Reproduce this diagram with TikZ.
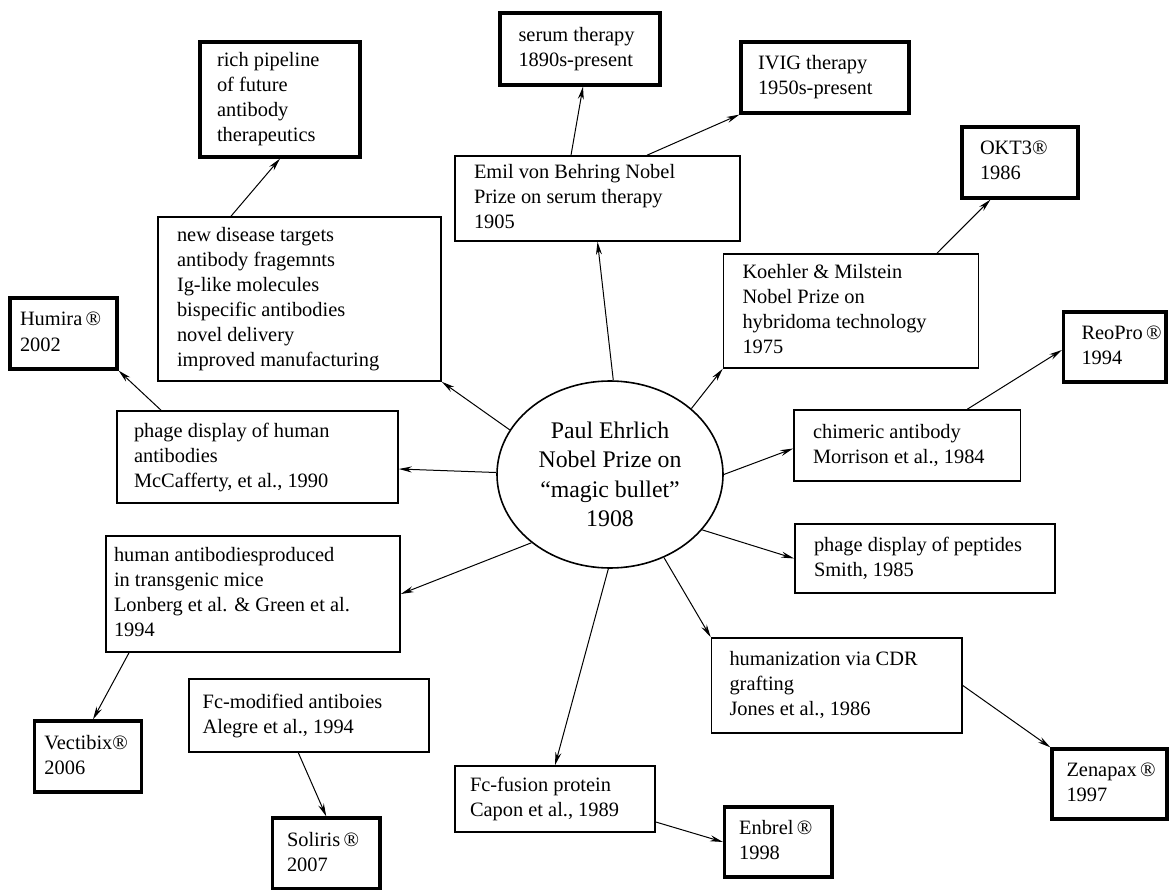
\documentclass[tikz,border=0pt]{standalone}
\usepackage{fontspec}
\setmainfont{Liberation Serif}
\usetikzlibrary{arrows.meta,shapes.geometric}
\newcommand\boxfont{\fontsize{20.4}{25}\selectfont}
\newcommand\ellfont{\fontsize{23.8}{29.3}\selectfont}
\newcommand\bt[3]{\makebox[#1][l]{\hspace*{#2}\begin{tabular}{@{}l@{}}#3\end{tabular}}}
\tikzset{
  thinbox/.style={draw, line width=1.6pt, inner sep=0pt, font=\boxfont},
  thickbox/.style={draw, line width=3.2pt, inner sep=0pt, font=\boxfont},
  arr/.style={line width=1pt, -{Stealth[length=13pt,width=6pt]}},
}
\begin{document}
\begin{tikzpicture}[x=1pt,y=-1pt]
\fill[white] (0,0) rectangle (1169,890);
\useasboundingbox (0,0) rectangle (1169,890);

% central ellipse
\node[draw, line width=1.6pt, ellipse, minimum width=226pt, minimum height=187pt, inner sep=0pt, align=center, font=\ellfont] (ell) at (610,474.5)
  {Paul Ehrlich\\Nobel Prize on\\“magic bullet”\\1908};

% boxes
\node[thickbox, minimum width=160pt, minimum height=115pt] (rich) at (280,99.5)
  {\bt{160pt}{17pt}{rich pipeline\\of future\\antibody\\therapeutics}};
\node[thinbox, minimum width=283pt, minimum height=164pt] (newdis) at (299.5,299)
  {\bt{283pt}{19pt}{new disease targets\\antibody fragemnts\\Ig-like molecules\\bispecific antibodies\\novel delivery\\improved manufacturing}};
\node[thickbox, minimum width=107pt, minimum height=71pt] (humira) at (63.5,333.5)
  {\bt{107pt}{10pt}{Humira\,®\\2002}};
\node[thinbox, minimum width=281pt, minimum height=92pt] (phagehum) at (257.5,457)
  {\bt{281pt}{17pt}{phage display of human\\antibodies\\McCafferty, et al., 1990}};
\node[thickbox, minimum width=160pt, minimum height=72pt] (serum) at (580,49)
  {\bt{160pt}{18.5pt}{serum therapy\\1890s-present}};
\node[thinbox, minimum width=285pt, minimum height=85pt] (emil) at (597.5,198.5)
  {\bt{285pt}{19pt}{Emil von Behring Nobel\\Prize on serum therapy\\1905}};
\node[thickbox, minimum width=168pt, minimum height=71pt] (ivig) at (825,77.5)
  {\bt{168pt}{17pt}{IVIG therapy\\1950s-present}};
\node[thickbox, minimum width=116pt, minimum height=71pt] (okt3) at (1020,162.5)
  {\bt{116pt}{18pt}{OKT3®\\1986}};
\node[thinbox, minimum width=255pt, minimum height=114pt] (koehler) at (851,311)
  {\bt{255pt}{19pt}{Koehler \& Milstein\\Nobel Prize on\\hybridoma technology\\1975}};
\node[thickbox, minimum width=102.5pt, minimum height=70pt] (reopro) at (1114.75,347)
  {\bt{102.5pt}{18pt}{ReoPro\,®\\1994}};
\node[thinbox, minimum width=226.6pt, minimum height=71pt] (chimeric) at (907.3,445.5)
  {\bt{226.6pt}{19pt}{chimeric antibody\\Morrison et al., 1984}};
\node[thinbox, minimum width=260pt, minimum height=69pt] (peptides) at (925,558.5)
  {\bt{260pt}{19pt}{phage display of peptides\\Smith, 1985}};
\node[thinbox, minimum width=250.5pt, minimum height=95pt] (humaniz) at (836.75,685.5)
  {\bt{250.5pt}{18pt}{humanization via CDR\\grafting\\Jones et al., 1986}};
\node[thickbox, minimum width=115pt, minimum height=70pt] (zenapax) at (1109.5,784)
  {\bt{115pt}{14.5pt}{Zenapax\,®\\1997}};
\node[thickbox, minimum width=107.4pt, minimum height=70pt] (enbrel) at (778.3,842)
  {\bt{107.4pt}{14.5pt}{Enbrel\,®\\1998}};
\node[thinbox, minimum width=200pt, minimum height=66pt] (fcfusion) at (555,799)
  {\bt{200pt}{15pt}{Fc-fusion protein\\Capon et al., 1989}};
\node[thinbox, minimum width=294pt, minimum height=116pt] (humanab) at (253,594)
  {\bt{294pt}{8pt}{human antibodiesproduced\\in transgenic mice\\Lonberg et al. \& Green et al.\\1994}};
\node[thickbox, minimum width=107.2pt, minimum height=71pt] (vectibix) at (88,756.5)
  {\bt{107.2pt}{10pt}{Vectibix®\\2006}};
\node[thinbox, minimum width=240.3pt, minimum height=73pt] (fcmod) at (308.85,715.5)
  {\bt{240.3pt}{14pt}{Fc-modified antiboies\\Alegre et al., 1994}};
\node[thickbox, minimum width=107.5pt, minimum height=71pt] (soliris) at (326.25,853.5)
  {\bt{107.5pt}{14.5pt}{Soliris\,®\\2007}};

% connectors from the ellipse
\draw[arr] (ell.156) -- (newdis.south east);
\draw[arr] (ell.179) -- ([yshift=-12pt]phagehum.east);
\draw[arr] (ell.221) -- (humanab.east);
\draw[arr] (ell.269) -- (fcfusion.north);
\draw[arr] (ell.303) -- (humaniz.north west);
\draw[arr] (ell.329) -- (peptides.west);
\draw[arr] (ell.0) -- ([yshift=-3pt]chimeric.west);
\draw[arr] (ell.39.5) -- (koehler.south west);
\draw[arr] (ell.88) -- (emil.south);

% secondary connectors
\draw[arr] ([xshift=-26.5pt]emil.north) -- ([xshift=3pt]serum.south);
\draw[arr] ([xshift=49.5pt]emil.north) -- (ivig.south west);
\draw[arr] ([xshift=86pt]koehler.north) -- ([xshift=-29.5pt]okt3.south);
\draw[arr] ([xshift=60pt]chimeric.north) -- ([yshift=-3pt]reopro.west);
\draw[arr] (humaniz.east) -- (zenapax.north west);
\draw[arr] ([yshift=-23pt]fcfusion.east) -- (enbrel.west);
\draw[arr] ([xshift=-10.5pt]fcmod.south) -- (soliris.north);
\draw[arr] ([xshift=-124pt]humanab.south) -- ([xshift=5pt]vectibix.north);
\draw[arr] ([xshift=-96.5pt]phagehum.north) -- (humira.south east);
\draw[arr] ([xshift=-68.5pt]newdis.north) -- (rich.south);
\end{tikzpicture}
\end{document}
